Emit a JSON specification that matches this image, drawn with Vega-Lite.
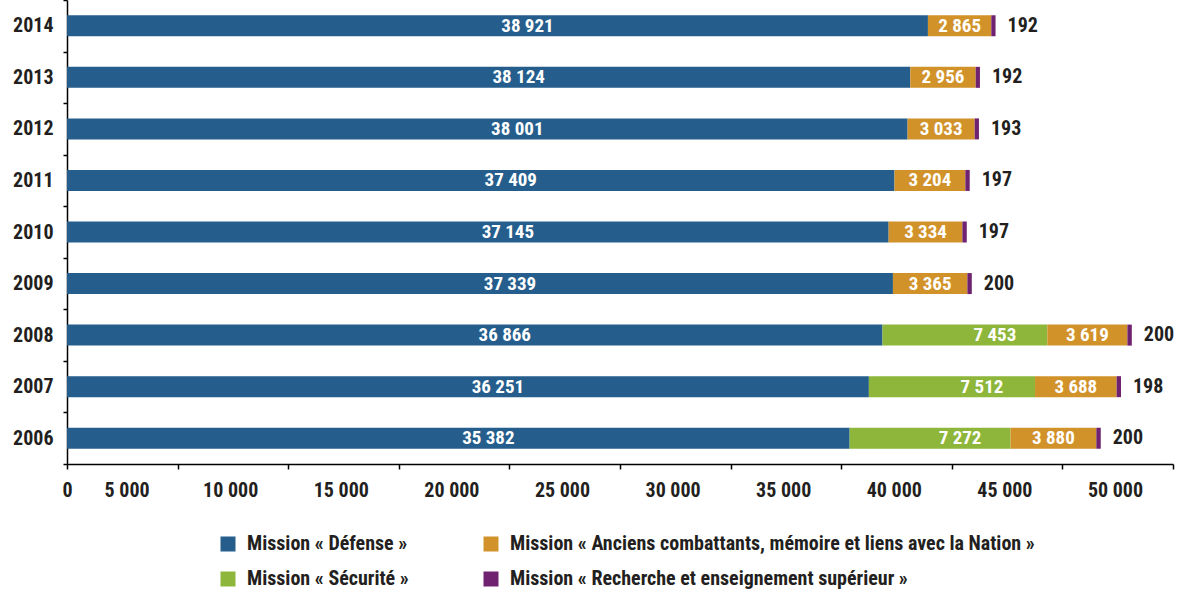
{
  "$schema": "https://vega.github.io/schema/vega-lite/v6.json",
  "width": 1106,
  "height": 464,
  "autosize": "none",
  "padding": {"left": 67, "top": 0, "right": 5, "bottom": 127},
  "config": {
    "font": "Roboto Condensed, Roboto, sans-serif",
    "locale": {"number": {"decimal": ",", "thousands": " ", "grouping": [3], "currency": ["", " €"]}},
    "view": {"stroke": null}
  },
  "data": {
    "values": [
      {"annee": "2014", "mission": "Mission « Défense »", "valeur": 38921, "ordre": 1},
      {"annee": "2014", "mission": "Mission « Anciens combattants, mémoire et liens avec la Nation »", "valeur": 2865, "ordre": 3},
      {"annee": "2014", "mission": "Mission « Recherche et enseignement supérieur »", "valeur": 192, "ordre": 4},
      {"annee": "2013", "mission": "Mission « Défense »", "valeur": 38124, "ordre": 1},
      {"annee": "2013", "mission": "Mission « Anciens combattants, mémoire et liens avec la Nation »", "valeur": 2956, "ordre": 3},
      {"annee": "2013", "mission": "Mission « Recherche et enseignement supérieur »", "valeur": 192, "ordre": 4},
      {"annee": "2012", "mission": "Mission « Défense »", "valeur": 38001, "ordre": 1},
      {"annee": "2012", "mission": "Mission « Anciens combattants, mémoire et liens avec la Nation »", "valeur": 3033, "ordre": 3},
      {"annee": "2012", "mission": "Mission « Recherche et enseignement supérieur »", "valeur": 193, "ordre": 4},
      {"annee": "2011", "mission": "Mission « Défense »", "valeur": 37409, "ordre": 1},
      {"annee": "2011", "mission": "Mission « Anciens combattants, mémoire et liens avec la Nation »", "valeur": 3204, "ordre": 3},
      {"annee": "2011", "mission": "Mission « Recherche et enseignement supérieur »", "valeur": 197, "ordre": 4},
      {"annee": "2010", "mission": "Mission « Défense »", "valeur": 37145, "ordre": 1},
      {"annee": "2010", "mission": "Mission « Anciens combattants, mémoire et liens avec la Nation »", "valeur": 3334, "ordre": 3},
      {"annee": "2010", "mission": "Mission « Recherche et enseignement supérieur »", "valeur": 197, "ordre": 4},
      {"annee": "2009", "mission": "Mission « Défense »", "valeur": 37339, "ordre": 1},
      {"annee": "2009", "mission": "Mission « Anciens combattants, mémoire et liens avec la Nation »", "valeur": 3365, "ordre": 3},
      {"annee": "2009", "mission": "Mission « Recherche et enseignement supérieur »", "valeur": 200, "ordre": 4},
      {"annee": "2008", "mission": "Mission « Défense »", "valeur": 36866, "ordre": 1},
      {"annee": "2008", "mission": "Mission « Sécurité »", "valeur": 7453, "ordre": 2},
      {"annee": "2008", "mission": "Mission « Anciens combattants, mémoire et liens avec la Nation »", "valeur": 3619, "ordre": 3},
      {"annee": "2008", "mission": "Mission « Recherche et enseignement supérieur »", "valeur": 200, "ordre": 4},
      {"annee": "2007", "mission": "Mission « Défense »", "valeur": 36251, "ordre": 1},
      {"annee": "2007", "mission": "Mission « Sécurité »", "valeur": 7512, "ordre": 2},
      {"annee": "2007", "mission": "Mission « Anciens combattants, mémoire et liens avec la Nation »", "valeur": 3688, "ordre": 3},
      {"annee": "2007", "mission": "Mission « Recherche et enseignement supérieur »", "valeur": 198, "ordre": 4},
      {"annee": "2006", "mission": "Mission « Défense »", "valeur": 35382, "ordre": 1},
      {"annee": "2006", "mission": "Mission « Sécurité »", "valeur": 7272, "ordre": 2},
      {"annee": "2006", "mission": "Mission « Anciens combattants, mémoire et liens avec la Nation »", "valeur": 3880, "ordre": 3},
      {"annee": "2006", "mission": "Mission « Recherche et enseignement supérieur »", "valeur": 200, "ordre": 4}
    ]
  },
  "transform": [
    {"stack": "valeur", "groupby": ["annee"], "sort": [{"field": "ordre", "order": "ascending"}], "as": ["x0", "x1"]}
  ],
  "layer": [
    {
      "mark": {"type": "bar", "size": 21},
      "encoding": {
        "y": {
          "field": "annee", "type": "ordinal", "sort": "descending",
          "scale": {"paddingInner": 0, "paddingOuter": 0},
          "axis": {
            "title": null, "labelFontSize": 20, "labelFontWeight": "bold", "labelColor": "#231f20",
            "tickSize": 4, "labelPadding": 10, "domainColor": "#000", "tickColor": "#000",
            "domainWidth": 1.5, "tickWidth": 1.5, "tickBand": "extent"
          }
        },
        "x": {
          "field": "x0", "type": "quantitative",
          "scale": {"domain": [0, 50000], "nice": false},
          "axis": {
            "title": null, "grid": false,
            "values": [0, 5000, 10000, 15000, 20000, 25000, 30000, 35000, 40000, 45000, 50000],
            "format": ",d", "labelFlush": false, "labelOverlap": false, "labelBound": false,
            "labelOffset": {"condition": [{"test": "datum.value == 0", "value": 0}, {"test": "datum.value == 5000", "value": -51}], "value": -58},
            "tickSize": 5, "labelPadding": 11, "domainColor": "#000", "tickColor": "#000",
            "domainWidth": 1.5, "tickWidth": 1.5,
            "labelFontSize": 20, "labelFontWeight": "bold", "labelColor": "#231f20"
          }
        },
        "x2": {"field": "x1"},
        "color": {
          "field": "mission", "type": "nominal",
          "scale": {
            "domain": [
              "Mission « Défense »",
              "Mission « Anciens combattants, mémoire et liens avec la Nation »",
              "Mission « Sécurité »",
              "Mission « Recherche et enseignement supérieur »"
            ],
            "range": ["#255e8c", "#d2922a", "#8db63b", "#6f2270"]
          },
          "legend": {
            "title": null, "orient": "none", "legendX": 151, "legendY": 534,
            "direction": "horizontal", "columns": 2, "padding": 0,
            "symbolType": "square", "symbolSize": 225, "symbolStrokeWidth": 0,
            "labelFontSize": 20, "labelFontWeight": "bold", "labelColor": "#231f20",
            "labelLimit": 700, "columnPadding": 72, "rowPadding": 15, "labelOffset": 9
          }
        }
      }
    },
    {
      "transform": [
        {"filter": "datum.ordre < 3"},
        {"fold": ["x0", "x1"], "as": ["bord", "pos"]},
        {"aggregate": [{"op": "mean", "field": "pos", "as": "milieu"}], "groupby": ["annee", "mission", "valeur"]}
      ],
      "mark": {"type": "text", "color": "white", "fontWeight": "bold", "fontSize": 19, "baseline": "middle", "align": "center", "dx": 30},
      "encoding": {
        "y": {"field": "annee", "type": "ordinal", "sort": "descending"},
        "x": {"field": "milieu", "type": "quantitative"},
        "text": {"field": "valeur", "type": "quantitative", "format": ",d"}
      }
    },
    {
      "transform": [
        {"filter": "datum.ordre == 3"},
        {"fold": ["x0", "x1"], "as": ["bord", "pos"]},
        {"aggregate": [{"op": "mean", "field": "pos", "as": "milieu"}], "groupby": ["annee", "mission", "valeur"]}
      ],
      "mark": {"type": "text", "color": "white", "fontWeight": "bold", "fontSize": 19, "baseline": "middle", "align": "center"},
      "encoding": {
        "y": {"field": "annee", "type": "ordinal", "sort": "descending"},
        "x": {"field": "milieu", "type": "quantitative"},
        "text": {"field": "valeur", "type": "quantitative", "format": ",d"}
      }
    },
    {
      "transform": [{"filter": "datum.ordre == 4"}],
      "mark": {"type": "text", "color": "#231f20", "fontWeight": "bold", "fontSize": 20, "baseline": "middle", "align": "left", "dx": 12},
      "encoding": {
        "y": {"field": "annee", "type": "ordinal", "sort": "descending"},
        "x": {"field": "x1", "type": "quantitative"},
        "text": {"field": "valeur", "type": "quantitative", "format": ",d"}
      }
    }
  ]
}
